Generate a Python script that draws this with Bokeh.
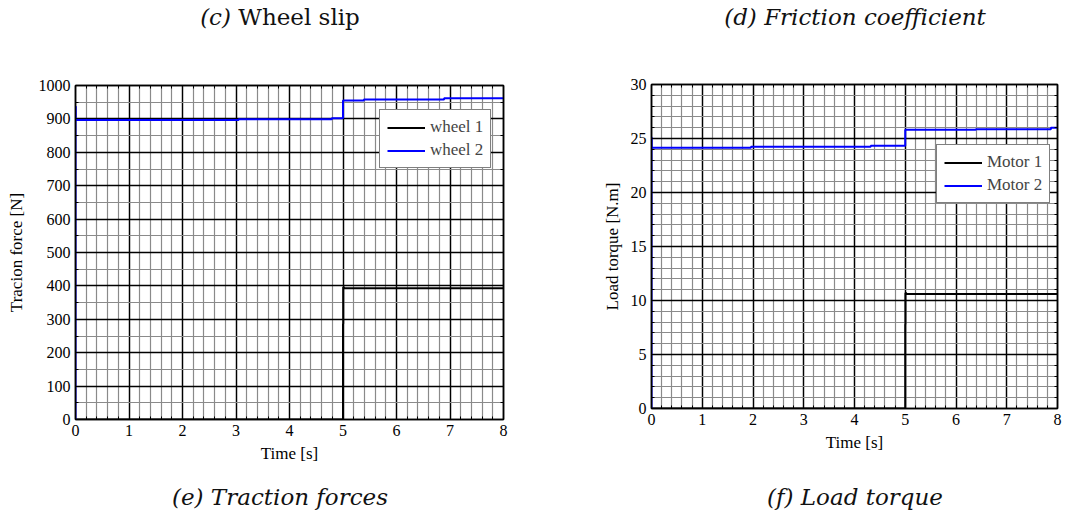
import numpy as np
from bokeh.plotting import figure
from bokeh.layouts import column, row
from bokeh.models import (Div, Range1d, FixedTicker, LinearAxis, CustomJSTickFormatter)
from bokeh.embed import file_html
from bokeh.resources import INLINE

# ---------------- data ----------------
x_ticks = [0, 1, 2, 3, 4, 5, 6, 7, 8]
force_ticks = [0, 100, 200, 300, 400, 500, 600, 700, 800, 900, 1000]
torque_ticks = [0, 5, 10, 15, 20, 25, 30]

# traction forces (step series, value holds until the next time)
wheel1_t = [0, 4.999, 5.0, 5.004, 5.02, 8.0]
wheel1_f = [0, 0, 287, 396, 393, 393]
wheel2_t = [0, 0, 0.005, 3.05, 4.79, 5.0, 5.39, 6.89, 8.0]
wheel2_f = [0, 937, 897, 899, 902, 955, 958, 962, 962]

# load torque
motor1_t = [0, 4.999, 5.0, 5.004, 5.02, 8.0]
motor1_q = [0, 0, 7.8, 10.7, 10.6, 10.6]
motor2_t = [0, 0, 0.005, 1.96, 4.32, 5.0, 6.39, 7.87, 8.0]
motor2_q = [0, 25.1, 24.14, 24.23, 24.32, 25.8, 25.86, 25.99, 25.99]

captions_top = ["<i>(c)</i> Wheel slip", "<i>(d) Friction coefficient</i>"]
captions_bottom = ["<i>(e) Traction forces</i>", "<i>(f) Load torque</i>"]

SERIF = "Liberation Serif"


def style(p, xt, yt, xminor, yminor):
    p.xaxis.ticker = FixedTicker(ticks=xt, minor_ticks=xminor)
    p.yaxis.ticker = FixedTicker(ticks=yt, minor_ticks=yminor)
    p.xgrid.ticker = FixedTicker(ticks=xt, minor_ticks=xminor)
    p.ygrid.ticker = FixedTicker(ticks=yt, minor_ticks=yminor)
    for g in (p.xgrid, p.ygrid):
        g.grid_line_color = "black"
        g.grid_line_width = 1.4
        g.grid_line_alpha = 1.0
        g.minor_grid_line_color = "#8a8a8a"
        g.minor_grid_line_width = 1.2
    top = LinearAxis(ticker=FixedTicker(ticks=xt, minor_ticks=xminor),
                     formatter=CustomJSTickFormatter(code="return ''"))
    right = LinearAxis(ticker=FixedTicker(ticks=yt, minor_ticks=yminor),
                       formatter=CustomJSTickFormatter(code="return ''"))
    p.add_layout(top, "above")
    p.add_layout(right, "right")
    for ax in (top, right):
        ax.major_label_standoff = 0
        ax.axis_label_standoff = 0
    for ax in p.axis:
        ax.axis_line_color = "black"
        ax.axis_line_width = 1.5
        ax.major_tick_in = 5
        ax.major_tick_out = 0
        ax.minor_tick_in = 3
        ax.minor_tick_out = 0
        ax.major_tick_line_color = "black"
        ax.minor_tick_line_color = "black"
        ax.major_label_text_font = SERIF
        ax.major_label_text_font_size = "16px"
        ax.major_label_text_color = "black"
        ax.axis_label_text_font = SERIF
        ax.axis_label_text_font_size = "17px"
        ax.axis_label_text_font_style = "normal"
        ax.axis_label_text_color = "black"
    p.outline_line_color = "black"
    p.outline_line_width = 1.5


def style_legend(p, loc):
    lg = p.legend[0]
    lg.location = loc
    lg.border_line_color = "black"
    lg.border_line_width = 1.2
    lg.background_fill_alpha = 1.0
    lg.label_text_font = SERIF
    lg.label_text_font_size = "17px"
    lg.glyph_width = 38
    lg.glyph_height = 19
    lg.label_standoff = 5
    lg.padding = 7
    lg.spacing = 3
    lg.margin = 0


# ---------------- left plot: traction forces ----------------
p1 = figure(width=536, height=440, output_backend="svg", toolbar_location=None,
            x_range=Range1d(0, 8), y_range=Range1d(0, 1000),
            min_border_left=75, min_border_right=33, min_border_top=45, min_border_bottom=61)
p1.step(wheel1_t, wheel1_f, mode="after", line_color="black", line_width=2, legend_label="wheel 1")
p1.step(wheel2_t, wheel2_f, mode="after", line_color="#0000ff", line_width=2, legend_label="wheel 2")
p1.xaxis[0].axis_label = "Time [s]"
p1.yaxis[0].axis_label = "Tracion force [N]"
style(p1, x_ticks, force_ticks, list(np.round(np.arange(0, 8.01, 0.2), 2)), list(range(0, 1001, 50)))
p1.xaxis[0].major_label_standoff = 8
p1.xaxis[0].axis_label_standoff = 5
p1.yaxis[0].major_label_standoff = 5
p1.yaxis[0].axis_label_standoff = 10
style_legend(p1, (304, 251))

# ---------------- right plot: load torque ----------------
p2 = figure(width=537, height=440, output_backend="svg", toolbar_location=None,
            x_range=Range1d(0, 8), y_range=Range1d(0, 30),
            min_border_left=115, min_border_right=16, min_border_top=44, min_border_bottom=72)
p2.step(motor1_t, motor1_q, mode="after", line_color="black", line_width=2, legend_label="Motor 1")
p2.step(motor2_t, motor2_q, mode="after", line_color="#0000ff", line_width=2, legend_label="Motor 2")
p2.xaxis[0].axis_label = "Time [s]"
p2.yaxis[0].axis_label = "Load torque [N.m]"
style(p2, x_ticks, torque_ticks, list(np.round(np.arange(0, 8.01, 0.2), 2)), list(range(0, 31, 1)))
p2.xaxis[0].major_label_standoff = 7
p2.xaxis[0].axis_label_standoff = 4
p2.yaxis[0].major_label_standoff = 5
p2.yaxis[0].axis_label_standoff = 6
style_legend(p2, (285, 205))


# ---------------- captions ----------------
def cap(html, width, pad):
    inner = (f'<div style="box-sizing:border-box;padding-left:{pad}px;width:{width}px;text-align:center;'
             f'font-family:\'DejaVu Serif\';font-size:23px;line-height:34px;color:#111;">{html}</div>')
    return Div(text=inner, width=width, height=40, styles={"margin": "0", "padding": "0"})


col1 = column(cap(captions_top[0], 536, 24), p1, cap(captions_bottom[0], 536, 24))
col2 = column(cap(captions_top[1], 537, 101), p2, cap(captions_bottom[1], 537, 101))
layout = row(col1, col2)

open("out.html", "w").write(file_html(layout, INLINE))
